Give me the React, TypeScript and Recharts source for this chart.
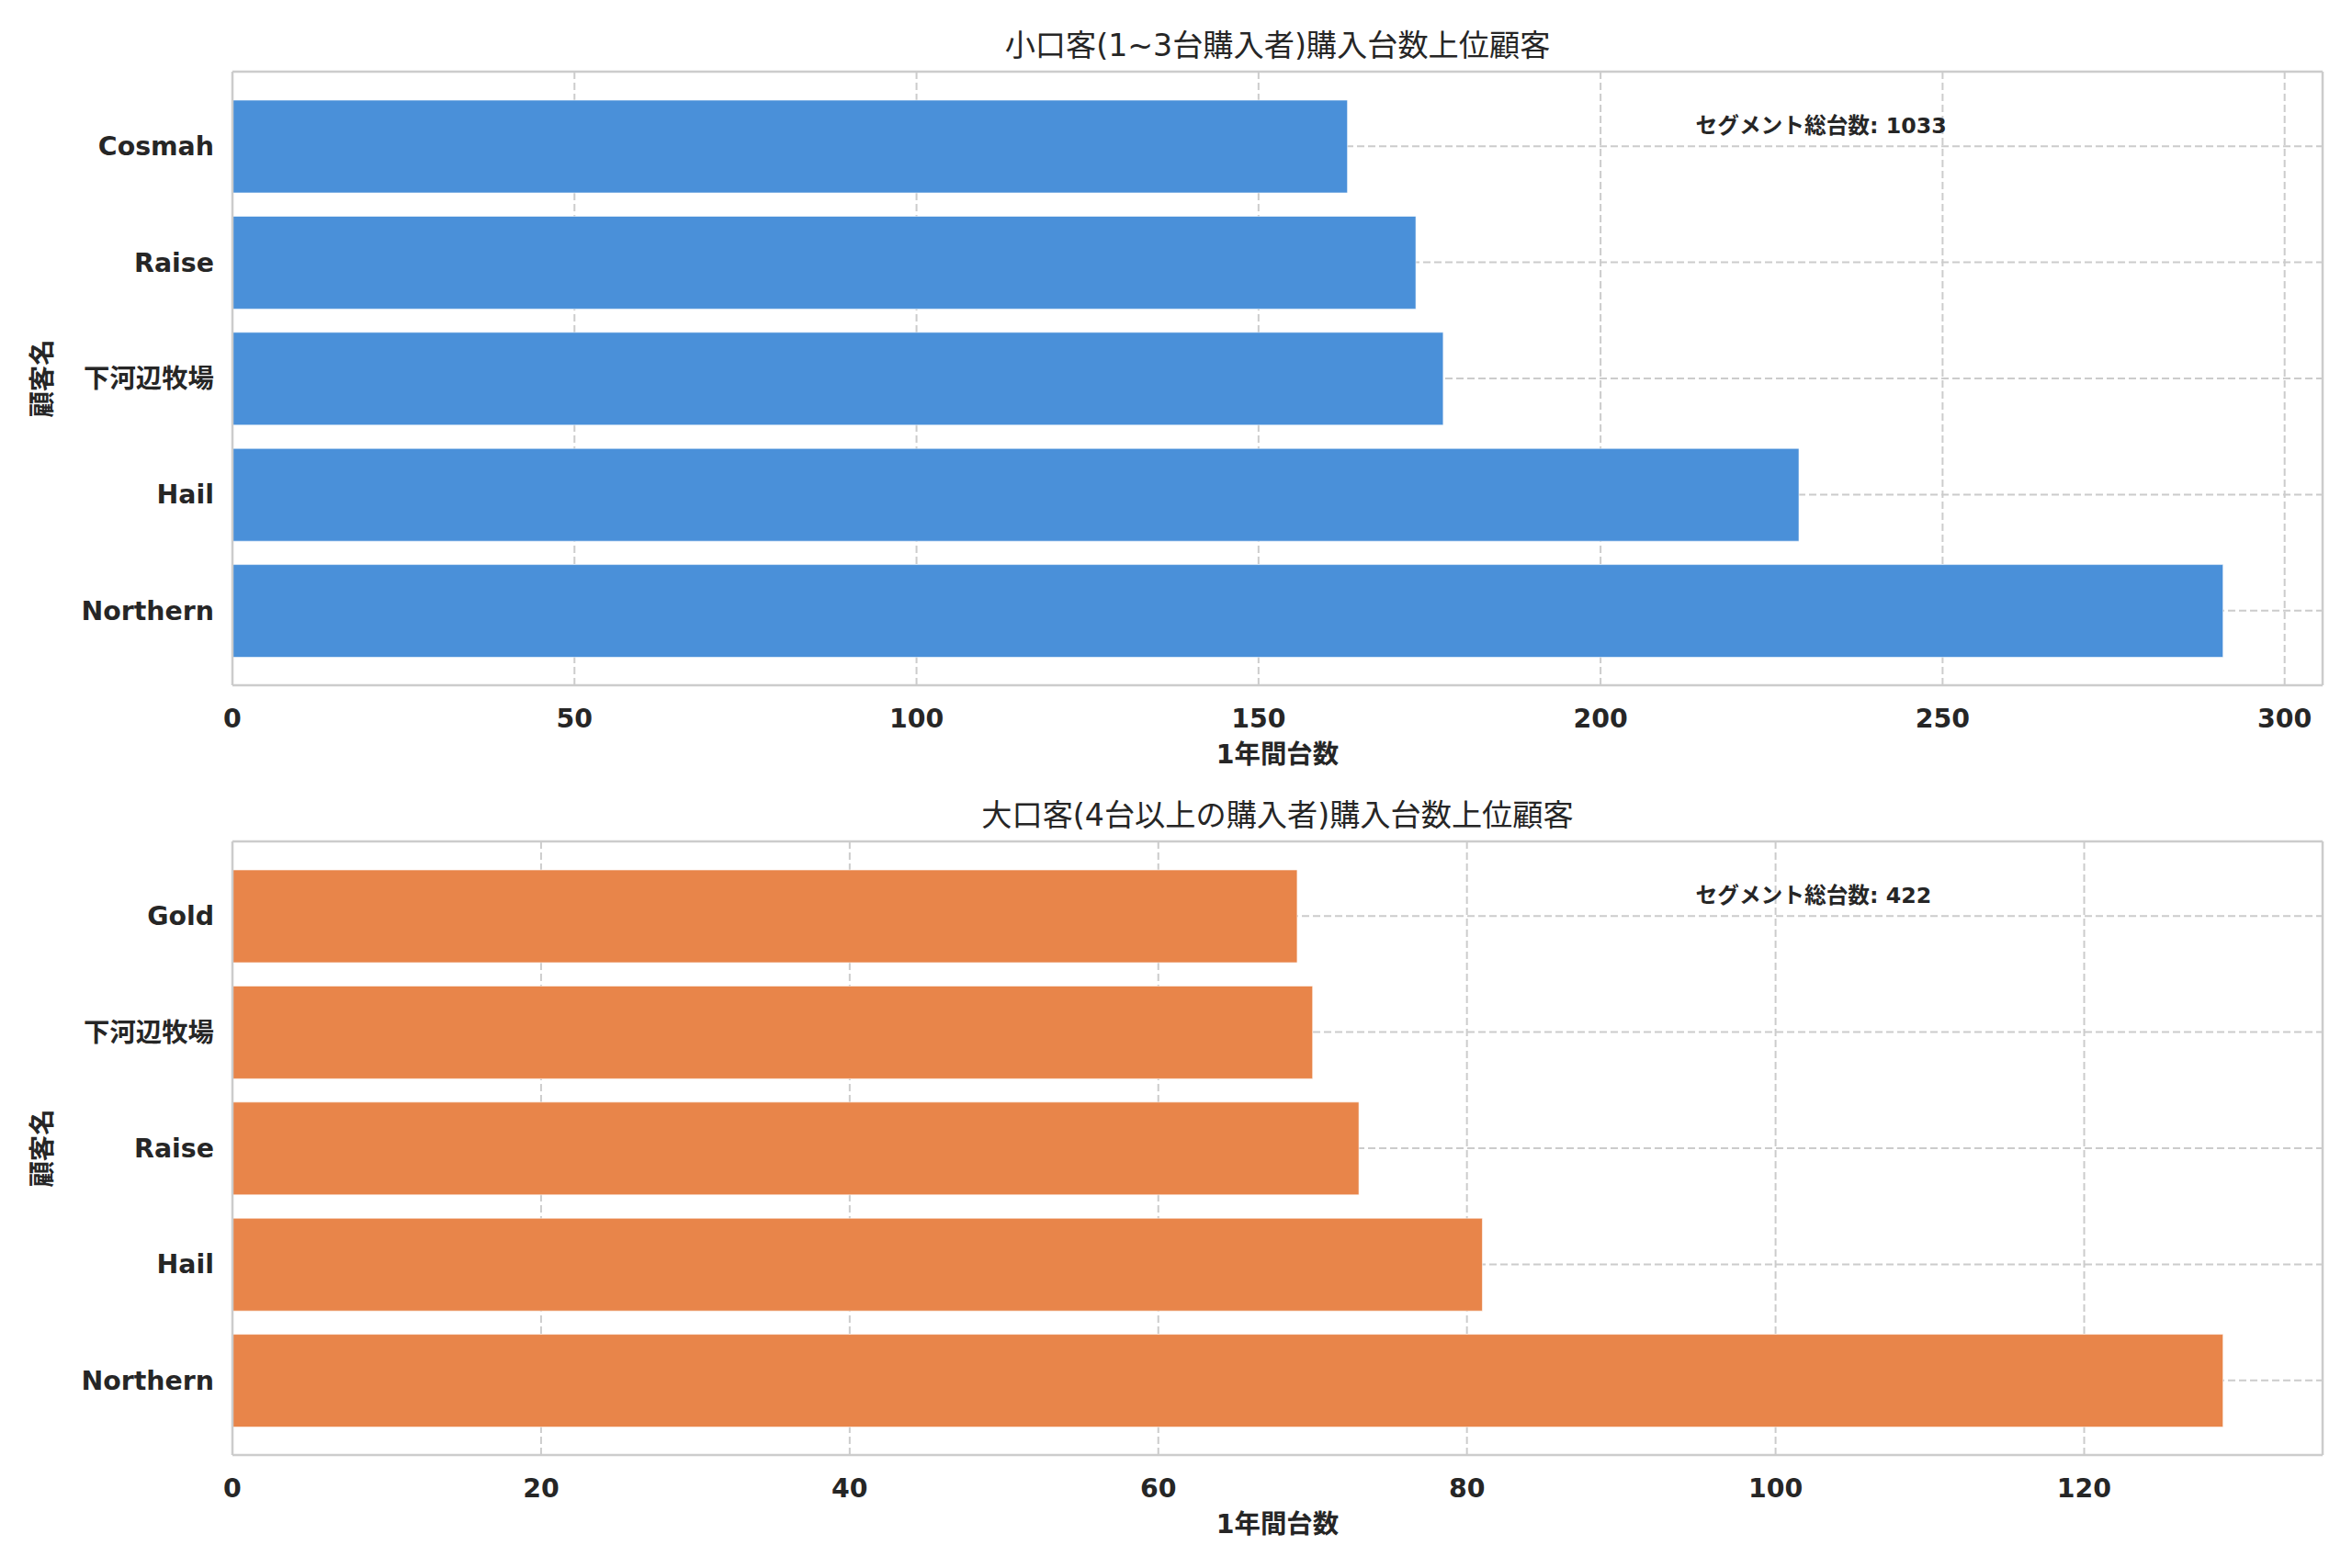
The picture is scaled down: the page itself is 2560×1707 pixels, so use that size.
import React from 'react';
import { BarChart, Bar, XAxis, YAxis, CartesianGrid, ReferenceLine } from 'recharts';

const smallCustomers = ['Cosmah', 'Raise', '下河辺牧場', 'Hail', 'Northern'];
const smallCounts = [163, 173, 177, 229, 291];
const smallTicks = [0, 50, 100, 150, 200, 250, 300];

const largeCustomers = ['Gold', '下河辺牧場', 'Raise', 'Hail', 'Northern'];
const largeCounts = [69, 70, 73, 81, 129];
const largeTicks = [0, 20, 40, 60, 80, 100, 120];

const smallTitle = '小口客(1~3台購入者)購入台数上位顧客';
const largeTitle = '大口客(4台以上の購入者)購入台数上位顧客';
const xLabelText = '1年間台数';
const yLabelText = '顧客名';
const totalLabel = 'セグメント総台数';

const FONT = "'DejaVu Sans', 'Noto Sans CJK JP', sans-serif";
const TEXT = '#262626';
const GRID = '#cccccc';

type PanelProps = {
  names: string[];
  values: number[];
  ticks: number[];
  color: string;
  title: string;
  height: number;
  marginTop: number;
  xAxisHeight: number;
};

function Panel({ names, values, ticks, color, title, height, marginTop, xAxisHeight }: PanelProps) {
  const data = names.map((n, i) => ({ name: n, value: values[i] }));
  const xmax = Math.max(...values) * 1.05;
  const total = values.reduce((a, b) => a + b, 0);
  const tickStyle = { fill: TEXT, fontSize: 28.4, fontWeight: 'bold', fontFamily: FONT };
  const spine = { stroke: GRID, strokeWidth: 2.5 };

  return (
    <BarChart
      width={2560}
      height={height}
      data={data}
      layout="vertical"
      margin={{ top: marginTop, right: 32, left: 0, bottom: 0 }}
    >
      <CartesianGrid stroke={GRID} strokeDasharray="8 4" strokeWidth={2} />
      <CartesianGrid
        stroke={GRID}
        strokeWidth={2.5}
        horizontalCoordinatesGenerator={(p: any) => [p.offset.top]}
        verticalCoordinatesGenerator={(p: any) => [p.offset.left + p.offset.width]}
      />
      <XAxis
        type="number"
        dataKey="value"
        domain={[0, xmax]}
        ticks={ticks}
        allowDataOverflow
        height={xAxisHeight}
        tickLine={false}
        tickSize={0}
        tickMargin={26}
        axisLine={spine}
        tick={tickStyle}
        label={(p: any) => (
          <text
            x={p.viewBox.x + p.viewBox.width / 2}
            y={p.viewBox.y + 75}
            textAnchor="middle"
            dominantBaseline="central"
            fill={TEXT}
            fontSize={28.4}
            fontWeight="bold"
            fontFamily={FONT}
          >
            {xLabelText}
          </text>
        )}
      />
      <YAxis
        type="category"
        dataKey="name"
        width={253}
        padding={{ top: 18, bottom: 18 }}
        tickLine={false}
        tickSize={0}
        tickMargin={20}
        axisLine={spine}
        tick={tickStyle}
        interval={0}
        label={(p: any) => (
          <text
            x={p.viewBox.x + 46}
            y={p.viewBox.y + p.viewBox.height / 2}
            transform={`rotate(-90 ${p.viewBox.x + 46} ${p.viewBox.y + p.viewBox.height / 2})`}
            textAnchor="middle"
            dominantBaseline="central"
            fill={TEXT}
            fontSize={28.4}
            fontWeight="bold"
            fontFamily={FONT}
          >
            {yLabelText}
          </text>
        )}
      />
      <Bar
        dataKey="value"
        fill={color}
        barSize={101}
        stroke="#ffffff"
        strokeOpacity={0.6}
        strokeWidth={1}
        isAnimationActive={false}
      />
      <ReferenceLine
        x={xmax * 0.5}
        stroke="none"
        strokeWidth={0}
        label={(p: any) => (
          <text
            x={p.viewBox.x}
            y={p.viewBox.y - 29}
            textAnchor="middle"
            dominantBaseline="central"
            fill={TEXT}
            fontSize={33.2}
            fontFamily={FONT}
          >
            {title}
          </text>
        )}
      />
      <ReferenceLine
        x={xmax * 0.7}
        stroke="none"
        strokeWidth={0}
        label={(p: any) => (
          <text
            x={p.viewBox.x}
            y={p.viewBox.y + 59}
            textAnchor="start"
            dominantBaseline="central"
            fill={TEXT}
            fontSize={23.7}
            fontWeight="bold"
            fontFamily={FONT}
          >
            {`${totalLabel}: ${total}`}
          </text>
        )}
      />
    </BarChart>
  );
}

export default function App() {
  return (
    <div
      style={{
        position: 'absolute',
        left: 0,
        top: 0,
        width: 2560,
        height: 1707,
        background: '#ffffff',
        fontFamily: FONT,
      }}
    >
      <Panel
        names={smallCustomers}
        values={smallCounts}
        ticks={smallTicks}
        color="#4a90d9"
        title={smallTitle}
        height={853}
        marginTop={78}
        xAxisHeight={107}
      />
      <Panel
        names={largeCustomers}
        values={largeCounts}
        ticks={largeTicks}
        color="#e8854a"
        title={largeTitle}
        height={854}
        marginTop={63}
        xAxisHeight={123}
      />
    </div>
  );
}
